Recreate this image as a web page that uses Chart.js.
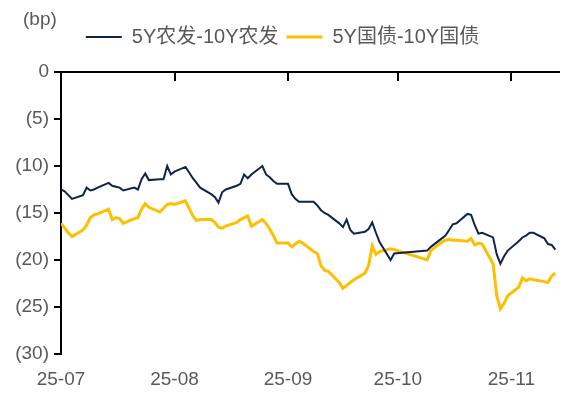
<!DOCTYPE html>
<html>
<head>
<meta charset="utf-8">
<script src="https://cdn.jsdelivr.net/npm/chart.js@4/dist/chart.umd.min.js"></script>
<style>
  html, body { margin: 0; padding: 0; background: #fff; }
  #wrap { width: 585px; height: 398px; }
</style>
</head>
<body>
<div id="wrap"><canvas id="spreadChart"></canvas></div>
<script>
// 交易日（2025年）
const tradeDays = [
  '07-01','07-02','07-03','07-04','07-07','07-08','07-09','07-10','07-11','07-14','07-15','07-16',
  '07-17','07-18','07-21','07-22','07-23','07-24','07-25','07-28','07-29','07-30','07-31',
  '08-01','08-04','08-05','08-06','08-07','08-08','08-11','08-12','08-13','08-14','08-15','08-18',
  '08-19','08-20','08-21','08-22','08-25','08-26','08-27','08-28','08-29',
  '09-01','09-02','09-03','09-04','09-05','09-08','09-09','09-10','09-11','09-12','09-15','09-16',
  '09-17','09-18','09-19','09-22','09-23','09-24','09-25','09-26','09-29','09-30',
  '10-09','10-10','10-13','10-14','10-15','10-16','10-17','10-20','10-21','10-22','10-23','10-24',
  '10-27','10-28','10-29','10-30','10-31',
  '11-03','11-04','11-05','11-06','11-07','11-10','11-11','11-12','11-13'
];

// 5Y农发-10Y农发 (bp)
const nongfaSpread = [
  -12.5, -12.7, -13.1, -13.5, -13.1, -12.3, -12.6, -12.5, -12.3, -11.8, -12.1, -12.2,
  -12.3, -12.6, -12.3, -12.5, -11.4, -10.8, -11.5, -11.4, -11.4, -10.0, -10.9,
  -10.6, -10.1, -10.7, -11.3, -11.8, -12.3, -13.0, -13.3, -13.9, -12.8, -12.5, -12.1,
  -11.9, -10.9, -11.3, -10.9, -10.0, -10.9, -11.2, -11.6, -11.9,
  -11.9, -13.0, -13.5, -13.8, -13.8, -13.8, -14.2, -14.7, -15.0, -15.2, -16.1, -16.5,
  -15.7, -16.8, -17.2, -17.0, -16.7, -16.0, -17.1, -18.1, -20.0, -19.3,
  -19.0, -18.6, -17.7, -17.4, -16.8, -16.2, -16.1, -15.1, -15.2, -16.3, -17.2, -17.1,
  -17.6, -19.4, -20.4, -19.6, -19.0,
  -18.0, -17.6, -17.4, -17.1, -17.1, -17.7, -18.3, -18.4, -18.9
];

// 5Y国债-10Y国债 (bp)
const guozhaiSpread = [
  -16.1, -16.6, -17.1, -17.5, -16.8, -16.3, -15.5, -15.2, -15.1, -14.6, -15.7, -15.5,
  -15.6, -16.1, -15.6, -15.5, -14.6, -14.0, -14.4, -14.9, -14.5, -14.1, -14.0,
  -14.1, -13.7, -14.5, -15.3, -15.8, -15.7, -15.7, -16.0, -16.5, -16.6, -16.4, -16.0,
  -15.7, -15.5, -15.3, -16.4, -15.7, -16.1, -16.7, -17.4, -18.2,
  -18.2, -18.6, -18.3, -18.0, -18.2, -19.1, -19.3, -20.6, -21.1, -21.2, -22.4, -23.0,
  -22.7, -22.4, -22.1, -21.4, -20.6, -18.5, -19.4, -19.1, -18.8, -18.9,
  -20.0, -19.0, -18.1, -17.9, -17.8, -17.9, -17.9, -18.0, -17.7, -18.4, -18.2, -18.3,
  -20.4, -23.8, -25.2, -24.6, -23.8,
  -22.9, -21.9, -22.2, -22.0, -22.1, -22.3, -22.4, -21.7, -21.4
];

// 横轴刻度
const monthTicks = ['07-01', '08-01', '09-01', '10-01', '11-01'];
const monthLabels = ['25-07', '25-08', '25-09', '25-10', '25-11'];
const axisEnd = '11-14';
const yTicks = [0, -5, -10, -15, -20, -25, -30];

const COLORS = {
  navy: '#0f2350',
  gold: '#fcc000',
  text: '#595959',
  axis: '#000000'
};
const FONT = "'Liberation Sans', Arial, 'Noto Sans CJK SC', sans-serif";

// 日期 -> 自 7 月 1 日起的天数
function dayOffset(md) {
  const [m, d] = md.split('-').map(Number);
  return (Date.UTC(2025, m - 1, d) - Date.UTC(2025, 6, 1)) / 86400000;
}
const xs = tradeDays.map(dayOffset);
const tickXs = monthTicks.map(dayOffset);
const xMax = dayOffset(axisEnd);

const toPoints = vals => vals.map((v, i) => ({ x: xs[i], y: v }));

// 图例位置微调 + (bp) 单位
const legendTweak = {
  id: 'legendTweak',
  beforeLayout(chart) {
    const lg = chart.legend;
    if (!lg || lg._tweaked) return;
    const fit = lg.fit;
    lg.fit = function () { fit.call(this); this.height += 15; };
    const draw = lg.draw;
    lg.draw = function () {
      this.ctx.save();
      this.ctx.translate(3, 0);
      draw.call(this);
      this.ctx.restore();
    };
    lg._tweaked = true;
  },
  afterDraw(chart) {
    const ctx = chart.ctx;
    ctx.save();
    ctx.font = '19px ' + FONT;
    ctx.fillStyle = COLORS.text;
    ctx.textBaseline = 'middle';
    ctx.textAlign = 'left';
    ctx.fillText('(bp)', 23, 20);
    ctx.restore();
  }
};

const monthTickBuilder = scale => {
  scale.ticks = tickXs.map(v => ({ value: v }));
};

new Chart(document.getElementById('spreadChart'), {
  type: 'line',
  data: {
    datasets: [
      {
        label: '5Y农发-10Y农发',
        data: toPoints(nongfaSpread),
        borderColor: COLORS.navy,
        backgroundColor: COLORS.navy,
        borderWidth: 2,
        pointRadius: 0,
        tension: 0
      },
      {
        label: '5Y国债-10Y国债',
        data: toPoints(guozhaiSpread),
        borderColor: COLORS.gold,
        backgroundColor: COLORS.gold,
        borderWidth: 3,
        pointRadius: 0,
        tension: 0
      }
    ]
  },
  options: {
    responsive: true,
    maintainAspectRatio: false,
    animation: false,
    layout: { padding: { top: 19, right: 26, left: 0, bottom: 0 } },
    plugins: {
      legend: {
        position: 'top',
        labels: {
          usePointStyle: true,
          pointStyle: 'line',
          pointStyleWidth: 36,
          padding: 8,
          color: COLORS.text,
          font: { size: 20, family: FONT }
        }
      },
      tooltip: { enabled: false }
    },
    scales: {
      x: {
        type: 'linear',
        position: 'bottom',
        min: 0,
        max: xMax,
        afterBuildTicks: monthTickBuilder,
        afterFit: scale => { scale.height = 44; },
        grid: { display: false },
        border: { display: false },
        ticks: {
          padding: 6,
          color: COLORS.text,
          font: { size: 19, family: FONT },
          maxRotation: 0,
          callback: (v, i) => monthLabels[i]
        }
      },
      x2: {
        type: 'linear',
        axis: 'x',
        position: { y: 0 },
        min: 0,
        max: xMax,
        afterBuildTicks: monthTickBuilder,
        grid: {
          drawOnChartArea: false,
          tickLength: 8,
          color: COLORS.axis,
          lineWidth: 2
        },
        border: { color: COLORS.axis, width: 2 },
        ticks: { display: false }
      },
      y: {
        min: -30,
        max: 0,
        afterBuildTicks: scale => { scale.ticks = yTicks.map(v => ({ value: v })); },
        afterFit: scale => { scale.width = 61; },
        grid: {
          drawOnChartArea: false,
          tickLength: 7,
          color: COLORS.axis,
          lineWidth: 2
        },
        border: { color: COLORS.axis, width: 2 },
        ticks: {
          padding: 5,
          color: COLORS.text,
          font: { size: 19, family: FONT },
          callback: v => (v === 0 ? '0' : '(' + Math.abs(v) + ')')
        }
      }
    }
  },
  plugins: [legendTweak]
});
</script>
</body>
</html>
